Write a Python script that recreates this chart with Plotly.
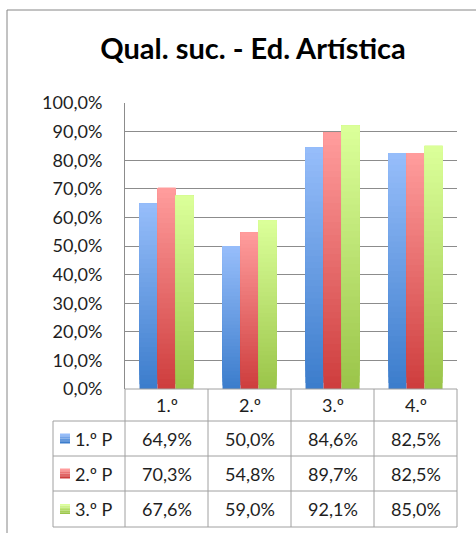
import plotly.graph_objects as go

# ---- data ----
categories = ["1.º", "2.º", "3.º", "4.º"]
series_names = ["1.º P", "2.º P", "3.º P"]
p1 = [64.9, 50.0, 84.6, 82.5]
p2 = [70.3, 54.8, 89.7, 82.5]
p3 = [67.6, 59.0, 92.1, 85.0]
y_ticks = [0, 10, 20, 30, 40, 50, 60, 70, 80, 90, 100]

series_values = [p1, p2, p3]

# ---- styling ----
W, H = 476, 533
PL, PR, PT, PB = 125, 457, 103, 389          # plot area (px)
FONT = "Lato"
FS = 18
TXT = "#1e1e1e"
GRID = "#8c8c8c"
TLINE = "#a0a0a0"

# vertical gradient per series: (bottom, top)
grad = [
    ((60, 125, 204), (150, 189, 250)),
    ((206, 62, 62), (255, 156, 156)),
    ((155, 197, 74), (219, 255, 153)),
]

def mix(c0, c1, t):
    return "rgb(%d,%d,%d)" % tuple(round(a + (b - a) * t) for a, b in zip(c0, c1))

# pixel -> paper coordinates (paper spans the plot area)
def px(x):
    return (x - PL) / (PR - PL)

def py(y):
    return (PB - y) / (PB - PT)

def pct(v):
    return f"{v:.1f}%".replace(".", ",")

fig = go.Figure()

# bars: each bar is layered from bottom to top so the lighter shades sit on top
N = 40
bar_w = 0.217
offsets = [-0.325, -0.108, 0.109]
xs = list(range(len(categories)))
for s, vals in enumerate(series_values):
    c_bot, c_top = grad[s]
    for k in range(N):
        base = [v * k / N for v in vals]
        hgt = [v - b for v, b in zip(vals, base)]
        fig.add_trace(go.Bar(
            x=xs, y=hgt, base=base,
            width=bar_w, offset=offsets[s],
            marker=dict(color=mix(c_bot, c_top, k / (N - 1)), line=dict(width=0)),
            showlegend=False, hoverinfo="skip",
        ))

shapes = []
annotations = []

# outer chart frame
shapes.append(dict(type="line", xref="paper", yref="paper",
                   x0=px(7), x1=px(W + 2), y0=py(10), y1=py(10),
                   line=dict(color="#868686", width=1)))
shapes.append(dict(type="line", xref="paper", yref="paper",
                   x0=px(7), x1=px(7), y0=py(10), y1=py(H + 2),
                   line=dict(color="#868686", width=1)))

# data table grid
col_edges = [PL + i * (PR - PL) / len(categories) for i in range(len(categories) + 1)]
row_edges = [389, 421, 456, 491, 527]
LEG_L = 53

def hline(x0, x1, y):
    shapes.append(dict(type="line", xref="paper", yref="paper",
                       x0=px(x0), x1=px(x1), y0=py(y), y1=py(y),
                       line=dict(color=TLINE, width=1)))

def vline(x, y0, y1):
    shapes.append(dict(type="line", xref="paper", yref="paper",
                       x0=px(x), x1=px(x), y0=py(y0), y1=py(y1),
                       line=dict(color=TLINE, width=1)))

hline(PL, PR, row_edges[0])
for y in row_edges[1:]:
    hline(LEG_L, PR, y)
for x in col_edges:
    vline(x, row_edges[0], row_edges[-1])
vline(LEG_L, row_edges[1], row_edges[-1])

def label(x, y, text, anchor="center"):
    annotations.append(dict(x=px(x), y=py(y), xref="paper", yref="paper",
                            text=text, showarrow=False,
                            xanchor=anchor, yanchor="middle",
                            font=dict(family=FONT, size=FS, color=TXT)))

# header labels
for i, cat in enumerate(categories):
    label((col_edges[i] + col_edges[i + 1]) / 2, (row_edges[0] + row_edges[1]) / 2, cat)

# value rows with legend keys
for s, (name, vals) in enumerate(zip(series_names, series_values)):
    y0, y1 = row_edges[s + 1], row_edges[s + 2]
    cy = (y0 + y1) / 2
    c_bot, c_top = grad[s]
    kx0, kx1 = 60, 70
    ky0 = cy - 5
    nk = 6
    for j in range(nk):
        shapes.append(dict(type="rect", xref="paper", yref="paper",
                           x0=px(kx0), x1=px(kx1),
                           y0=py(ky0 + 10 * j / nk), y1=py(ky0 + 10 * (j + 1) / nk),
                           fillcolor=mix(c_top, c_bot, j / (nk - 1)),
                           line=dict(width=0)))
    label(73, cy, name, anchor="left")
    for i, v in enumerate(vals):
        label((col_edges[i] + col_edges[i + 1]) / 2, cy, pct(v))

fig.update_layout(
    width=W, height=H,
    margin=dict(l=PL, r=W - PR, t=PT, b=H - PB, pad=0),
    paper_bgcolor="white", plot_bgcolor="white",
    barmode="overlay",
    showlegend=False,
    title=dict(text="<b>Qual. suc. - Ed. Artística</b>",
               x=253 / W, xanchor="center", xref="container",
               y=1 - 49 / H, yanchor="middle", yref="container",
               font=dict(family=FONT, size=29, color="#000000")),
    xaxis=dict(range=[-0.5, 3.5], showticklabels=False, showgrid=False,
               zeroline=False, showline=False, fixedrange=True),
    yaxis=dict(range=[0, 100], tickvals=y_ticks, ticktext=[pct(v) for v in y_ticks],
               showgrid=True, gridcolor=GRID, gridwidth=1, zeroline=False,
               showline=True, linecolor=GRID, linewidth=1,
               ticks="", ticklabelstandoff=18,
               tickfont=dict(family=FONT, size=FS, color=TXT), fixedrange=True),
    shapes=shapes,
    annotations=annotations,
)

fig.write_html("out.html")
